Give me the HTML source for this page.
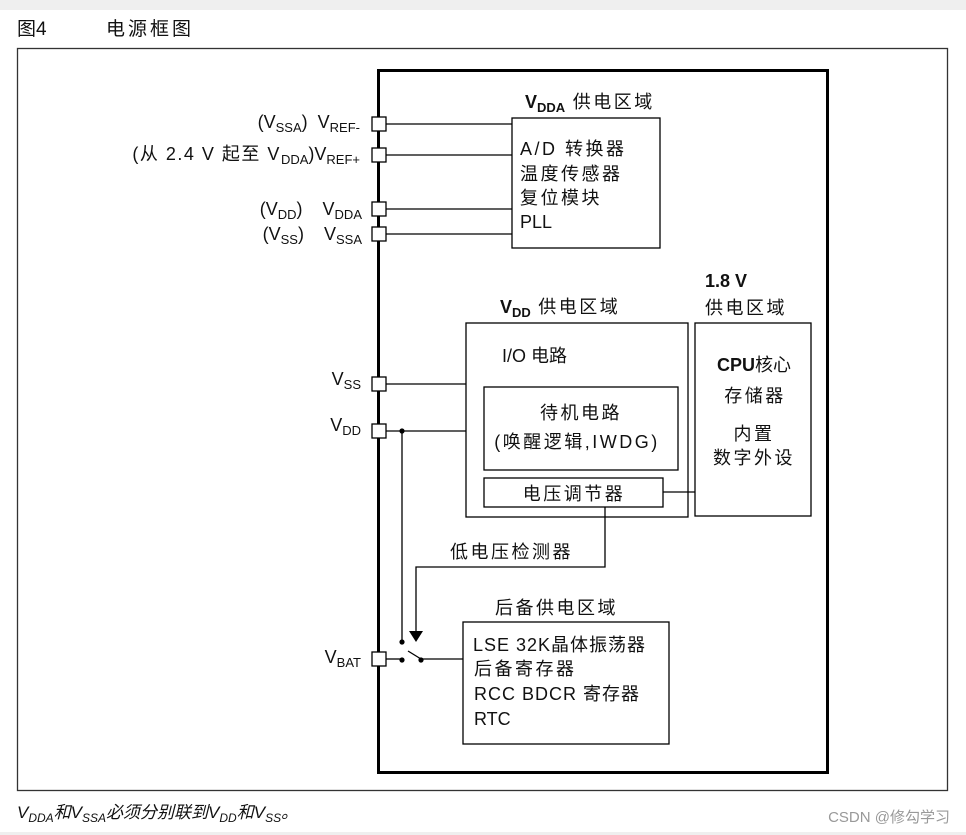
<!DOCTYPE html>
<html><head><meta charset="utf-8"><style>
html,body{margin:0;padding:0;background:#fff;}
svg{display:block;}
text{font-family:"Liberation Sans","Noto Sans CJK SC",sans-serif;fill:#111;}
.cj{letter-spacing:2.5px;}
</style></head><body>
<svg width="966" height="835" viewBox="0 0 966 835" xmlns="http://www.w3.org/2000/svg">
<rect x="0" y="0" width="966" height="10" fill="#efefef"/>
<rect x="0" y="832" width="966" height="3" fill="#efefef"/>
<text x="17" y="35" font-size="19">图4</text>
<text x="106" y="35" font-size="19" letter-spacing="3">电源框图</text>
<rect x="17.5" y="48.5" width="930" height="742" fill="none" stroke="#333" stroke-width="1.3"/>
<rect x="378.5" y="70.5" width="449" height="702" fill="none" stroke="#000" stroke-width="3"/>
<g fill="none" stroke="#000" stroke-width="1.3">
<rect x="512" y="118" width="148" height="130"/>
<line x1="386" y1="124" x2="512" y2="124"/>
<line x1="386" y1="155" x2="512" y2="155"/>
<line x1="386" y1="209" x2="512" y2="209"/>
<line x1="386" y1="234" x2="512" y2="234"/>
<rect x="466" y="323" width="222" height="194"/>
<rect x="484" y="387" width="194" height="83"/>
<rect x="484" y="478" width="179" height="29"/>
<rect x="695" y="323" width="116" height="193"/>
<line x1="663" y1="492" x2="695" y2="492"/>
<line x1="386" y1="384" x2="466" y2="384"/>
<line x1="386" y1="431" x2="466" y2="431"/>
<line x1="402" y1="431" x2="402" y2="640"/>
<polyline points="605,507 605,567 416,567 416,632"/>
<rect x="463" y="622" width="206" height="122"/>
<line x1="386" y1="659" x2="402" y2="659"/>
<line x1="408" y1="651" x2="421" y2="659"/>
<line x1="421" y1="659" x2="463" y2="659"/>
</g>
<polygon points="409,631 423,631 416,642" fill="#000"/>
<g fill="#000"><circle cx="402" cy="431" r="2.6"/><circle cx="402" cy="642" r="2.6"/><circle cx="402" cy="660" r="2.6"/><circle cx="421" cy="660" r="2.6"/></g>
<g fill="#fff" stroke="#000" stroke-width="1.3">
<rect x="372" y="117" width="14" height="14"/>
<rect x="372" y="148" width="14" height="14"/>
<rect x="372" y="202" width="14" height="14"/>
<rect x="372" y="227" width="14" height="14"/>
<rect x="372" y="377" width="14" height="14"/>
<rect x="372" y="424" width="14" height="14"/>
<rect x="372" y="652" width="14" height="14"/>
</g>
<g font-size="18" text-anchor="end">
<text x="360" y="128" xml:space="preserve">(V<tspan font-size="13" dy="4">SSA</tspan><tspan dy="-4">)  V</tspan><tspan font-size="13" dy="4">REF-</tspan></text>
<text x="360" y="160" xml:space="preserve" letter-spacing="1.5">(从 2.4 V 起至 V<tspan font-size="13" dy="4" letter-spacing="0">DDA</tspan><tspan dy="-4" letter-spacing="0">)V</tspan><tspan font-size="13" dy="4" letter-spacing="0">REF+</tspan></text>
<text x="362" y="215" xml:space="preserve">(V<tspan font-size="13" dy="4">DD</tspan><tspan dy="-4">)    V</tspan><tspan font-size="13" dy="4">DDA</tspan></text>
<text x="362" y="240" xml:space="preserve">(V<tspan font-size="13" dy="4">SS</tspan><tspan dy="-4">)    V</tspan><tspan font-size="13" dy="4">SSA</tspan></text>
<text x="361" y="385">V<tspan font-size="13" dy="4">SS</tspan></text>
<text x="361" y="431">V<tspan font-size="13" dy="4">DD</tspan></text>
<text x="361" y="663">V<tspan font-size="13" dy="4">BAT</tspan></text>
</g>
<g font-size="18">
<text x="525" y="108"><tspan font-weight="bold">V</tspan><tspan font-weight="bold" font-size="13" dy="4">DDA</tspan><tspan dy="-4" class="cj"> 供电区域</tspan></text>
<text x="520" y="155" class="cj">A/D 转换器</text>
<text x="520" y="180" class="cj">温度传感器</text>
<text x="520" y="204" class="cj">复位模块</text>
<text x="520" y="228">PLL</text>
<text x="500" y="313"><tspan font-weight="bold">V</tspan><tspan font-weight="bold" font-size="13" dy="4">DD</tspan><tspan dy="-4" class="cj"> 供电区域</tspan></text>
<text x="705" y="287" font-weight="bold">1.8 V</text>
<text x="705" y="314" class="cj">供电区域</text>
<text x="502" y="362">I/O 电路</text>
<text x="581" y="419" text-anchor="middle" class="cj">待机电路</text>
<text x="577" y="448" text-anchor="middle" class="cj">(唤醒逻辑,IWDG)</text>
<text x="574" y="500" text-anchor="middle" class="cj">电压调节器</text>
<text x="754" y="371" text-anchor="middle"><tspan font-weight="bold">CPU</tspan>核心</text>
<text x="755" y="402" text-anchor="middle" class="cj">存储器</text>
<text x="754" y="440" text-anchor="middle" class="cj">内置</text>
<text x="754" y="464" text-anchor="middle" class="cj">数字外设</text>
<text x="450" y="558" class="cj">低电压检测器</text>
<text x="495" y="614" class="cj">后备供电区域</text>
<text x="473" y="651" letter-spacing="1">LSE 32K晶体振荡器</text>
<text x="474" y="675" class="cj">后备寄存器</text>
<text x="474" y="700" letter-spacing="1">RCC BDCR 寄存器</text>
<text x="474" y="725">RTC</text>
</g>
<text x="17" y="818" font-size="17" font-style="italic">V<tspan font-size="12" dy="4">DDA</tspan><tspan dy="-4">和V</tspan><tspan font-size="12" dy="4">SSA</tspan><tspan dy="-4">必须分别联到V</tspan><tspan font-size="12" dy="4">DD</tspan><tspan dy="-4">和V</tspan><tspan font-size="12" dy="4">SS</tspan><tspan dy="-4">。</tspan></text>
<text x="950" y="822" font-size="15" text-anchor="end" style="fill:#999">CSDN @修勾学习</text>
</svg>
</body></html>
